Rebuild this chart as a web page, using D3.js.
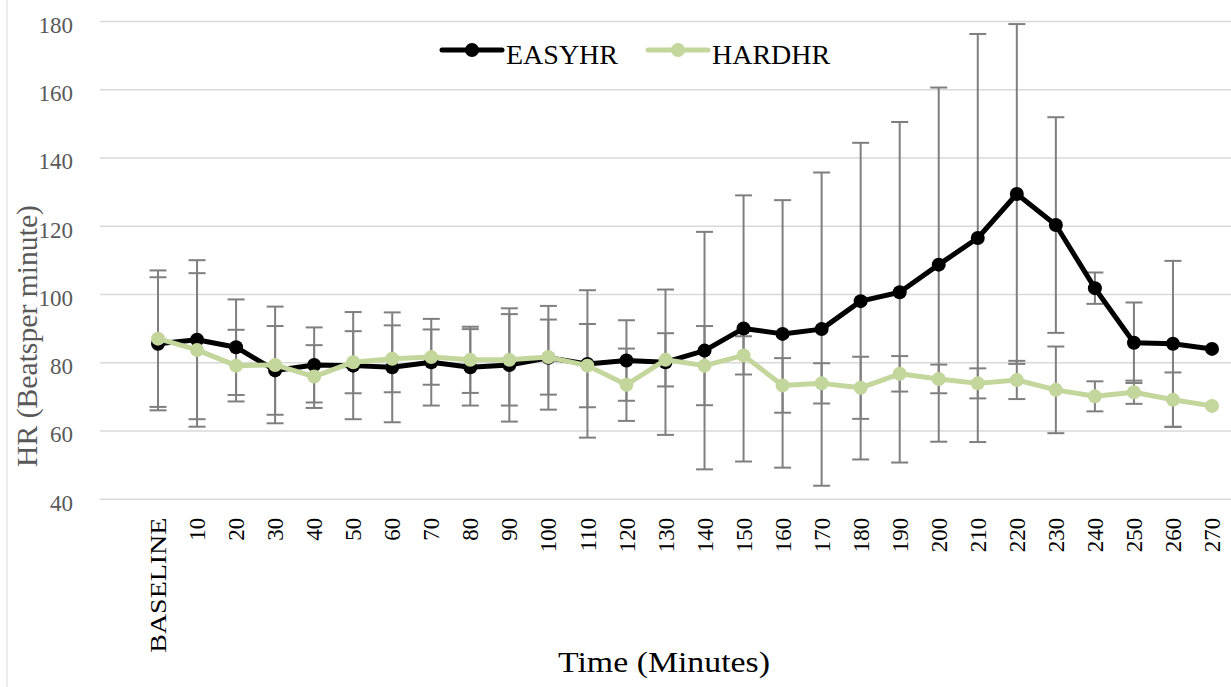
<!DOCTYPE html>
<html>
<head>
<meta charset="utf-8">
<script src="https://cdn.jsdelivr.net/npm/d3@7"></script>
<style>
	body { margin: 0; background: white; }
	svg { display: block; }
</style>
</head>
<body>
<script>
var categories = ['BASELINE', '10', '20', '30', '40', '50', '60', '70', '80', '90', '100', '110', '120', '130',
	'140', '150', '160', '170', '180', '190', '200', '210', '220', '230', '240', '250', '260', '270']

var easyHR = [85.4, 86.6, 84.4, 77.6, 79.2, 79.0, 78.5, 80.0, 78.5, 79.2, 81.3, 79.5, 80.5, 80.0,
	83.4, 89.9, 88.3, 89.7, 97.9, 100.5, 108.6, 116.4, 129.3, 120.2, 101.7, 85.7, 85.4, 83.9]
var easyErr = [19.5, 23.3, 14.0, 13.0, 11.0, 15.7, 16.1, 12.7, 11.2, 16.6, 15.2, 21.6, 11.8, 21.3,
	34.8, 39.0, 39.2, 45.9, 46.4, 49.9, 51.9, 59.8, 49.8, 31.6, 4.6, 11.8, 24.3, 0]

var hardHR = [86.9, 83.6, 79.0, 79.2, 75.8, 80.0, 81.0, 81.5, 80.7, 80.7, 81.5, 79.0, 73.4, 80.7,
	79.0, 82.0, 73.2, 73.8, 72.5, 76.6, 75.1, 73.8, 74.8, 71.9, 70.0, 71.2, 69.0, 67.2]
var hardErr = [20.0, 22.5, 10.5, 17.1, 9.2, 9.1, 9.8, 8.1, 9.7, 13.4, 11.0, 12.2, 10.6, 7.8,
	11.6, 5.6, 8.0, 5.9, 9.1, 5.2, 4.2, 4.4, 5.6, 12.7, 4.4, 3.4, 8.0, 0]

var yTicks = [40, 60, 80, 100, 120, 140, 160, 180]

var series = [
	{ name: 'EASYHR', values: easyHR, err: easyErr, color: '#000000' },
	{ name: 'HARDHR', values: hardHR, err: hardErr, color: '#c3d69b' }
]

var W = 1231, H = 687
var serif = '"Liberation Serif", "Times New Roman", serif'

var svg = d3.select('body').append('svg')
	.attr('width', W)
	.attr('height', H)

var x = d3.scalePoint().domain(categories).range([158, 1212])
var y = d3.scaleLinear().domain([40, 180]).range([498.7, 21])

// faint frame edge on the left
svg.append('line')
	.attr('x1', 7).attr('x2', 7).attr('y1', 0).attr('y2', H)
	.attr('stroke', '#e6e6e6').attr('stroke-width', 1.5)

// gridlines
var grid = svg.append('g')
	.attr('transform', 'translate(100,0)')
	.call(d3.axisLeft(y).tickValues(yTicks).tickSize(-1131).tickFormat(''))
grid.select('.domain').remove()
grid.selectAll('line').attr('stroke', '#d9d9d9').attr('stroke-width', 1.5)

// y axis labels
var yAxis = svg.append('g')
	.attr('transform', 'translate(100,0)')
	.call(d3.axisLeft(y).tickValues(yTicks).tickSize(0).tickPadding(27))
yAxis.select('.domain').remove()
yAxis.selectAll('text')
	.attr('dy', '0.5em')
	.attr('fill', '#595959')
	.style('font-family', serif)
	.style('font-size', '23px')

// x axis labels
var xAxis = svg.append('g')
	.attr('transform', 'translate(0,' + y(40) + ')')
	.call(d3.axisBottom(x).tickSize(0))
xAxis.select('.domain').remove()
xAxis.selectAll('text')
	.attr('transform', 'rotate(-90)')
	.attr('text-anchor', 'end')
	.attr('x', -19)
	.attr('y', 0)
	.attr('dy', '0.33em')
	.attr('fill', '#000')
	.style('font-family', serif)
	.style('font-size', '23px')
	.each(function(d) {
		if(d === 'BASELINE') {
			d3.select(this).attr('textLength', 135).attr('lengthAdjust', 'spacingAndGlyphs')
		}
	})

// axis titles
svg.append('text')
	.attr('x', 664).attr('y', 672)
	.attr('text-anchor', 'middle')
	.attr('textLength', 212).attr('lengthAdjust', 'spacingAndGlyphs')
	.style('font-family', serif)
	.style('font-size', '29px')
	.attr('fill', '#000')
	.text('Time (Minutes)')

svg.append('text')
	.attr('transform', 'translate(37,336) rotate(-90)')
	.attr('text-anchor', 'middle')
	.attr('textLength', 262).attr('lengthAdjust', 'spacingAndGlyphs')
	.style('font-family', serif)
	.style('font-size', '29px')
	.attr('fill', '#595959')
	.text('HR (Beatsper minute)')

// error bars, drawn under both lines
var errGroup = svg.append('g').attr('id', 'errors')
series.forEach(function(s) {
	var pts = categories.map(function(c, i) { return { c: c, v: s.values[i], e: s.err[i] } })
		.filter(function(p) { return p.e > 0 })
	var g = errGroup.selectAll(null)
		.data(pts)
		.enter()
		.append('g')
		.attr('stroke', '#7f7f7f')
		.attr('stroke-width', 2)
	g.append('line')
		.attr('x1', function(p) { return x(p.c) })
		.attr('x2', function(p) { return x(p.c) })
		.attr('y1', function(p) { return y(p.v + p.e) })
		.attr('y2', function(p) { return y(p.v - p.e) })
	g.append('line')
		.attr('x1', function(p) { return x(p.c) - 8.5 })
		.attr('x2', function(p) { return x(p.c) + 8.5 })
		.attr('y1', function(p) { return y(p.v + p.e) })
		.attr('y2', function(p) { return y(p.v + p.e) })
	g.append('line')
		.attr('x1', function(p) { return x(p.c) - 8.5 })
		.attr('x2', function(p) { return x(p.c) + 8.5 })
		.attr('y1', function(p) { return y(p.v - p.e) })
		.attr('y2', function(p) { return y(p.v - p.e) })
})

// lines and markers
var line = d3.line()
	.x(function(d, i) { return x(categories[i]) })
	.y(function(d) { return y(d) })

series.forEach(function(s) {
	var g = svg.append('g').attr('class', 'series')
	g.append('path')
		.datum(s.values)
		.attr('d', line)
		.attr('fill', 'none')
		.attr('stroke', s.color)
		.attr('stroke-width', 5)
		.attr('stroke-linejoin', 'round')
	g.selectAll('circle')
		.data(s.values)
		.enter()
		.append('circle')
		.attr('cx', function(d, i) { return x(categories[i]) })
		.attr('cy', function(d) { return y(d) })
		.attr('r', 7)
		.attr('fill', s.color)
})

// legend
var legend = svg.append('g').attr('id', 'legend')
var legendX = [442, 648]
series.forEach(function(s, i) {
	var lg = legend.append('g').attr('transform', 'translate(' + legendX[i] + ',50)')
	lg.append('line')
		.attr('x1', 0).attr('x2', 60)
		.attr('stroke', s.color)
		.attr('stroke-width', 5)
		.attr('stroke-linecap', 'round')
	lg.append('circle')
		.attr('cx', 30)
		.attr('r', 7)
		.attr('fill', s.color)
	lg.append('text')
		.attr('x', 64)
		.attr('y', 14)
		.style('font-family', serif)
		.style('font-size', '28px')
		.attr('fill', '#000')
		.text(s.name)
})
</script>
</body>
</html>
